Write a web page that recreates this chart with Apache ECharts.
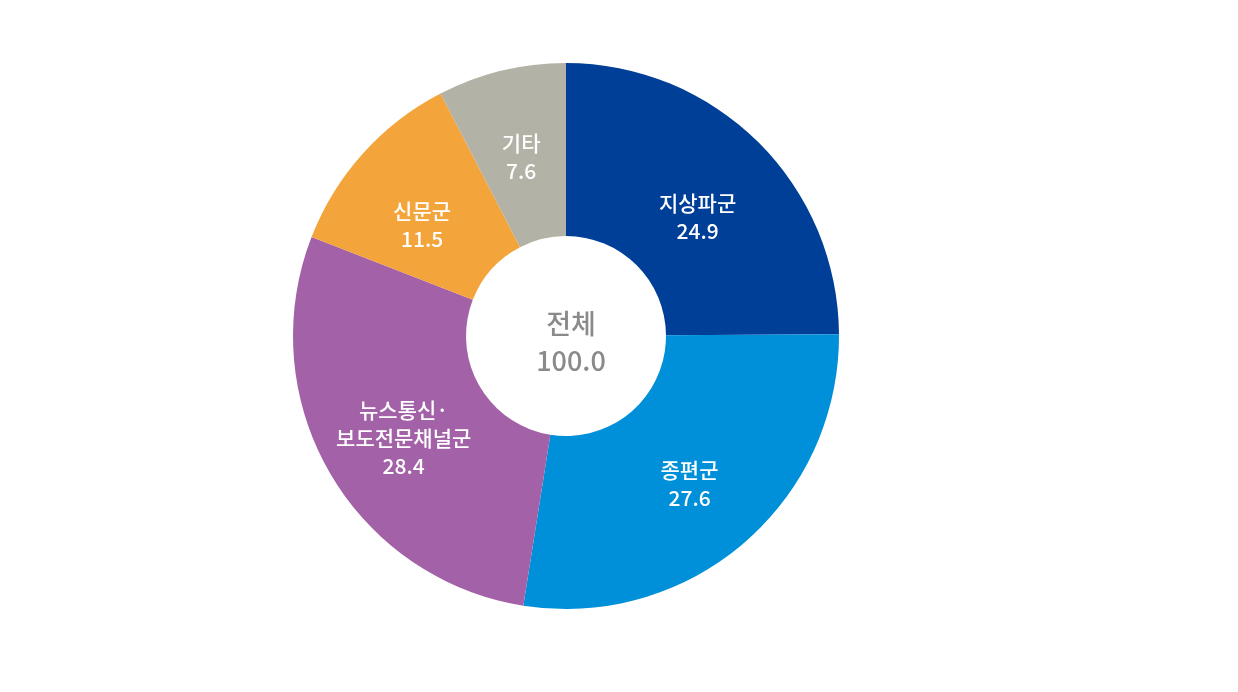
<!DOCTYPE html>
<html>
<head>
<meta charset="utf-8">
<script src="https://cdn.jsdelivr.net/npm/echarts@6/dist/echarts.min.js"></script>
<style>
html,body{margin:0;padding:0;background:#fff;}
#main{width:1238px;height:692px;}
</style>
</head>
<body>
<div id="main"></div>
<script>
// 항목 / 값
var names = ['지상파군', '종편군', '뉴스통신·\n보도전문채널군', '신문군', '기타'];
var values = [24.9, 27.6, 28.4, 11.5, 7.6];
var totalLabel = '전체';
var totalValue = '100.0';

// 색, 라벨 위치 보정
var colors = ['#003f98', '#0090d9', '#a361a7', '#f3a43b', '#b3b2a6'];
var labelShift = [[-2, 15], [0, 4], [2, 8], [-3, 16], [0, 5]];

var pieData = [];
for (var i = 0; i < names.length; i++) {
	pieData.push({
		name: names[i],
		value: values[i],
		itemStyle: { color: colors[i] },
		label: { offset: labelShift[i] }
	});
}

var myChart = echarts.init(document.getElementById('main'));
myChart.setOption({
	backgroundColor: '#fff',
	animation: false,
	title: {
		text: totalLabel + '\n' + totalValue,
		left: 566,
		top: 337,
		textAlign: 'center',
		textVerticalAlign: 'middle',
		textStyle: {
			fontFamily: 'Noto Sans CJK KR',
			fontSize: 27,
			fontWeight: 500,
			color: '#8a8a8a',
			lineHeight: 37
		}
	},
	series: [{
		type: 'pie',
		center: [566, 336],
		radius: [100, 273],
		startAngle: 90,
		clockwise: true,
		data: pieData,
		itemStyle: { borderWidth: 0 },
		label: {
			show: true,
			position: 'inside',
			formatter: '{b}\n{c}',
			color: '#fff',
			fontFamily: 'Noto Sans CJK KR',
			fontSize: 21,
			fontWeight: 500,
			lineHeight: 28,
			textBorderWidth: 0
		},
		labelLine: { show: false }
	}]
});
</script>
</body>
</html>
